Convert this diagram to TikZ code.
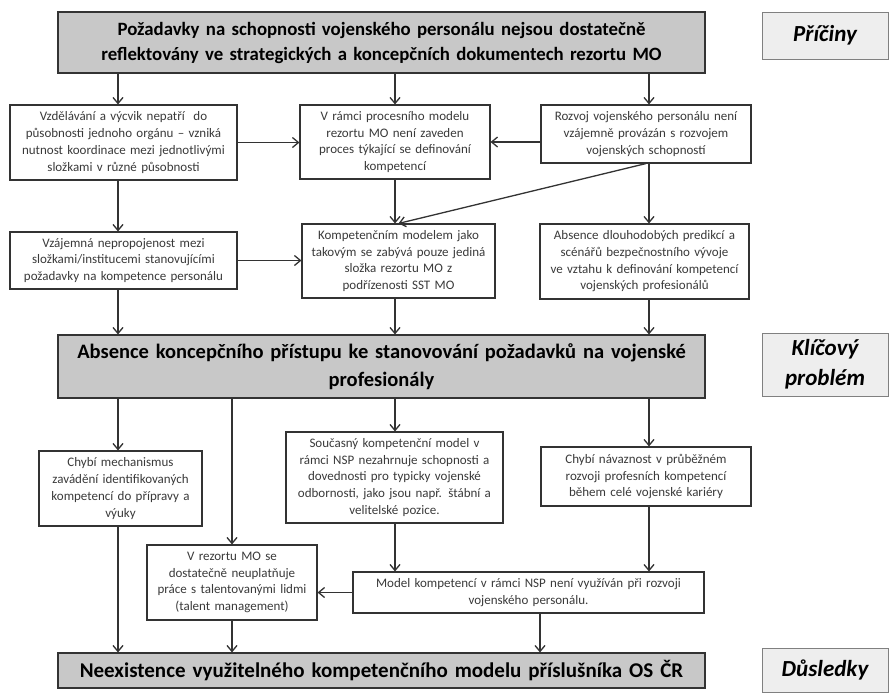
\documentclass[tikz,border=0pt]{standalone}
\usepackage{fontspec}
\setmainfont{Carlito}
\usetikzlibrary{arrows.meta}

\definecolor{linegray}{HTML}{333333}
\definecolor{bargray}{HTML}{C8C8C8}
\definecolor{tagfill}{HTML}{EEEEEE}
\definecolor{tagline}{HTML}{808080}
\definecolor{textgray}{HTML}{3A3A3A}

\tikzset{
	box/.style={draw=linegray, line width=1.1pt, fill=white, align=center, inner xsep=2pt, inner ysep=0pt,
		text=textgray, font=\fontsize{13}{16.7}\selectfont},
	bar/.style={draw=linegray, line width=1.1pt, fill=bargray, align=center, inner xsep=2pt, inner ysep=0pt,
		minimum width=647, text width=643, font=\fontsize{18.8}{25}\selectfont\bfseries},
	tag/.style={draw=tagline, line width=0.9pt, fill=tagfill, align=center, inner sep=0pt,
		minimum width=126, font=\fontsize{23}{30}\selectfont\bfseries\itshape},
	arr/.style={draw=linegray, line width=1.3pt, -{Straight Barb[length=6pt, width=10pt]}}
}

\begin{document}
\begin{tikzpicture}[x=1pt, y=-1pt]

	\useasboundingbox (0,0) rectangle (890,697);

	\coordinate (c1) at (118,0);
	\coordinate (c2) at (395,0);
	\coordinate (c3) at (649,0);
	\coordinate (c4) at (232,0);
	\coordinate (c5) at (540,0);

	\node [bar, minimum height=61] (top) at (381.5,42.5) {Požadavky na schopnosti vojenského personálu nejsou dostatečně\\ reflektovány ve strategických a koncepčních dokumentech rezortu MO};
	\node [tag, minimum height=47] (pric) at (825,35.5) {Příčiny};

	\node [box, text width=223, minimum height=75] (A1) at (123.5,142.5) {Vzdělávání a výcvik nepatří \ do\\ působnosti jednoho orgánu – vzniká\\ nutnost koordinace mezi jednotlivými\\ složkami v různé působnosti};
	\node [box, text width=186, minimum height=74] (A2) at (395,142) {V rámci procesního modelu\\ rezortu MO není zaveden\\ proces týkající se definování\\ kompetencí};
	\node [box, text width=206, minimum height=58] (A3) at (646,134) {Rozvoj vojenského personálu není\\ vzájemně provázán s rozvojem\\ vojenských schopností};

	\node [box, text width=223, minimum height=57] (B1) at (123.5,260.5) {Vzájemná nepropojenost mezi\\ složkami/institucemi stanovujícími\\ požadavky na kompetence personálu};
	\node [box, text width=189, minimum height=74] (B2) at (398.5,261) {Kompetenčním modelem jako\\ takovým se zabývá pouze jediná\\ složka rezortu MO z\\ podřízenosti SST MO};
	\node [box, text width=205, minimum height=75] (B3) at (644.5,261.5) {Absence dlouhodobých predikcí a\\ scénářů bezpečnostního vývoje\\ ve vztahu k definování kompetencí\\ vojenských profesionálů};

	\node [bar, minimum height=63, font=\fontsize{20.5}{28}\selectfont\bfseries] (mid) at (381.5,366.5) {Absence koncepčního přístupu ke stanovování požadavků na vojenské\\ profesionály};
	\node [tag, minimum height=63] (klic) at (825,364.5) {Klíčový\\ problém};

	\node [box, text width=159, minimum height=75] (C1) at (120.5,488.5) {Chybí mechanismus\\ zavádění identifikovaných\\ kompetencí do přípravy a\\ výuky};
	\node [box, text width=213, minimum height=91] (C2) at (394.5,477.5) {Současný kompetenční model v\\ rámci NSP nezahrnuje schopnosti a\\ dovednosti pro typicky vojenské\\ odbornosti, jako jsou např. štábní a\\ velitelské pozice.};
	\node [box, text width=206, minimum height=59] (C3) at (646,476.5) {Chybí návaznost v průběžném\\ rozvoji profesních kompetencí\\ během celé vojenské kariéry};

	\node [box, text width=166, minimum height=75] (D1) at (232,582.5) {V rezortu MO se\\ dostatečně neuplatňuje\\ práce s talentovanými lidmi\\ (talent management)};
	\node [box, text width=347, minimum height=41] (D2) at (528.5,592.5) {Model kompetencí v rámci NSP není využíván při rozvoji\\ vojenského personálu.};

	\node [bar, minimum height=35, font=\fontsize{21}{25}\selectfont\bfseries] (bot) at (381.5,670.5) {Neexistence využitelného kompetenčního modelu příslušníka OS ČR};
	\node [tag, minimum height=44] (dus) at (825,670) {Důsledky};

	\foreach \a/\b/\c in {top/A1/c1, top/A2/c2, top/A3/c3, A1/B1/c1, A2/B2/c2, A3/B3/c3,
		B1/mid/c1, B2/mid/c2, B3/mid/c3, mid/C1/c1, mid/D1/c4, mid/C2/c2, mid/C3/c3,
		C1/bot/c1, C2/D2/c2, C3/D2/c3, D1/bot/c4, D2/bot/c5}
		\draw [arr] (\a.south -| \c) -- (\b.north -| \c);

	\draw [arr] (A1.east) -- (A1.east -| A2.west);
	\draw [arr] (A3.west |- A2.east) -- (A2.east);
	\draw [arr] (A3.south) -- (B2.north);
	\draw [arr] (B1.east) -- (B1.east -| B2.west);
	\draw [arr] (D2.west) -- (D2.west -| D1.east);

\end{tikzpicture}
\end{document}
